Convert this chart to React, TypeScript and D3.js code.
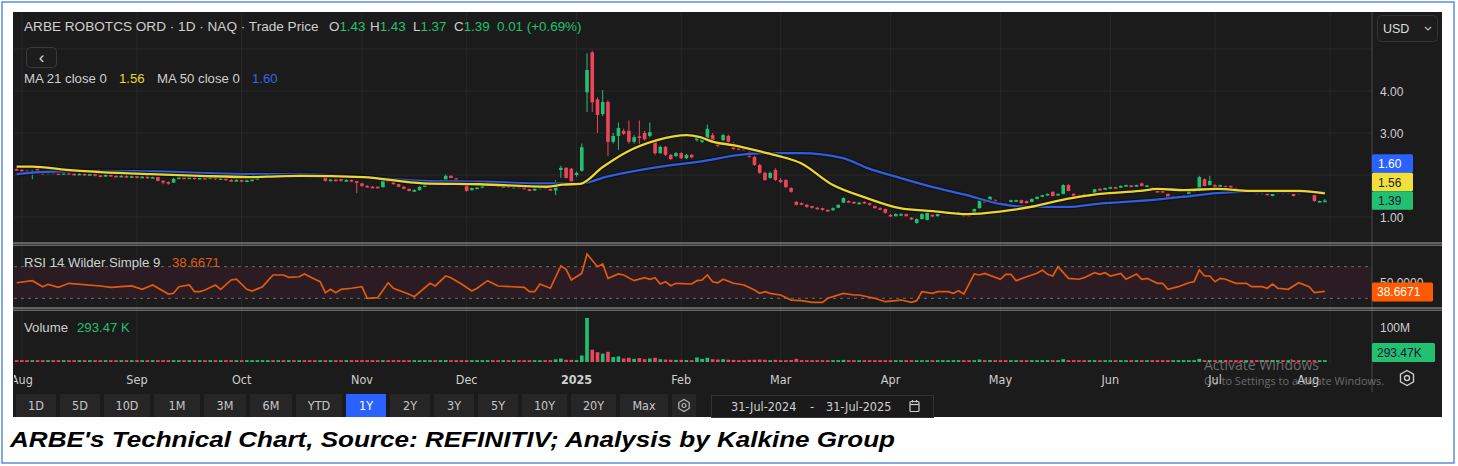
import React from 'react';
import * as d3 from 'd3';

type Bar = [number, number, number, number, number]; // open, high, low, close, volume (millions)

const jul24: Bar[] = [[2.14,2.16,2.10,2.12,3.1]];
const aug24: Bar[] = [
  [2.12,2.14,2.07,2.09,2.8],[2.10,2.12,2.04,2.06,3.0],[2.03,2.12,1.90,2.10,4.6],[2.16,2.18,2.03,2.05,3.4],
  [2.05,2.07,2.01,2.03,2.5],[2.03,2.08,2.02,2.06,2.2],[2.06,2.08,2.03,2.04,1.9],[2.04,2.06,2.00,2.02,2.1],
  [2.02,2.07,2.01,2.05,2.4],[2.05,2.06,2.01,2.03,1.8],[2.03,2.05,1.99,2.01,2.0],[2.01,2.05,2.00,2.03,2.2],
  [2.03,2.04,1.98,2.00,1.7],[2.00,2.04,1.99,2.02,1.9],[2.02,2.03,1.97,1.99,2.3],[1.99,2.00,1.95,1.97,2.0],
  [1.97,2.02,1.96,2.00,2.6],[2.00,2.01,1.96,1.98,1.8],[1.98,1.99,1.94,1.96,2.1],[1.96,2.00,1.95,1.98,1.7],
  [1.98,1.99,1.93,1.95,2.2],[1.95,1.99,1.94,1.97,1.9]];
const sep24: Bar[] = [
  [1.97,1.98,1.92,1.94,2.0],[1.94,1.98,1.93,1.96,2.3],[1.96,1.97,1.91,1.93,1.8],[1.93,1.97,1.92,1.95,2.1],
  [1.95,1.96,1.85,1.86,4.2],[1.86,1.88,1.78,1.83,4.8],[1.83,1.85,1.77,1.80,3.9],[1.82,1.93,1.81,1.91,4.4],
  [1.91,1.96,1.90,1.94,2.9],[1.94,1.95,1.90,1.92,2.2],[1.92,1.96,1.91,1.94,2.0],[1.94,1.95,1.89,1.91,2.1],
  [1.91,1.95,1.90,1.93,1.8],[1.93,1.94,1.90,1.92,1.7],[1.92,1.96,1.91,1.94,2.0],[1.94,1.95,1.88,1.90,2.4],
  [1.90,1.94,1.89,1.92,1.9],[1.92,1.93,1.86,1.88,2.2],[1.88,1.90,1.84,1.86,2.3],[1.86,1.90,1.85,1.88,1.8]];
const oct24: Bar[] = [
  [1.88,1.89,1.83,1.85,2.1],[1.85,1.89,1.84,1.87,1.9],[1.87,1.91,1.86,1.89,2.0],[1.89,1.95,1.88,1.93,2.6],
  [1.93,1.99,1.92,1.97,3.0],[1.97,2.05,1.96,2.02,3.5],[2.02,2.04,1.98,2.00,2.4],[2.00,2.05,1.99,2.03,2.2],
  [2.03,2.04,1.99,2.01,1.9],[2.01,2.06,2.00,2.04,2.3],[2.04,2.05,2.00,2.02,1.8],[2.02,2.06,2.01,2.04,2.0],
  [2.04,2.05,2.00,2.02,1.7],[2.02,2.03,1.99,2.01,1.8],[2.01,2.02,1.97,1.99,2.0],[1.99,2.02,1.98,2.00,1.9],
  [2.00,2.01,1.84,1.86,5.2],[1.86,1.90,1.85,1.89,2.6],[1.89,1.91,1.85,1.87,2.1],[1.90,1.91,1.84,1.86,2.4],
  [1.86,1.90,1.85,1.88,1.9],[1.88,1.89,1.83,1.85,2.2],[1.85,1.86,1.57,1.82,4.6]];
const nov24: Bar[] = [
  [1.80,1.81,1.72,1.74,3.8],[1.74,1.76,1.70,1.72,2.6],[1.72,1.74,1.69,1.71,2.2],[1.72,1.73,1.68,1.70,2.0],
  [1.71,1.89,1.70,1.87,4.9],[1.87,1.89,1.83,1.84,2.8],[1.85,1.86,1.77,1.78,3.0],[1.78,1.79,1.71,1.72,2.9],
  [1.72,1.73,1.66,1.67,2.7],[1.67,1.68,1.61,1.62,3.1],[1.62,1.66,1.60,1.64,2.4],[1.64,1.73,1.63,1.72,3.3],
  [1.72,1.79,1.71,1.78,3.6],[1.78,1.82,1.77,1.80,2.5],[1.80,1.82,1.77,1.79,2.2],[1.80,1.89,1.79,1.88,4.0],
  [1.88,2.01,1.87,1.98,5.5],[1.98,2.00,1.92,1.93,3.6],[1.92,1.93,1.85,1.86,3.0],[1.86,1.87,1.79,1.80,2.8]];
const dec24: Bar[] = [
  [1.79,1.80,1.60,1.62,4.4],[1.64,1.70,1.63,1.69,2.9],[1.69,1.72,1.67,1.70,2.1],[1.70,1.75,1.69,1.74,2.4],
  [1.74,1.85,1.73,1.83,3.8],[1.82,1.83,1.75,1.76,2.7],[1.76,1.78,1.71,1.72,2.2],[1.72,1.75,1.71,1.73,1.8],
  [1.73,1.74,1.69,1.70,1.9],[1.70,1.73,1.69,1.72,1.7],[1.72,1.74,1.70,1.71,1.6],[1.72,1.73,1.65,1.66,2.5],
  [1.66,1.67,1.61,1.62,2.8],[1.63,1.70,1.62,1.69,2.6],[1.69,1.72,1.68,1.70,2.0],[1.71,1.72,1.66,1.67,2.2],
  [1.67,1.68,1.62,1.63,2.6],[1.63,1.88,1.52,1.83,7.5],[2.12,2.22,1.93,2.17,9.8],[2.17,2.19,1.92,1.93,6.2],
  [2.15,2.17,1.81,1.83,5.9]];
const jan25: Bar[] = [
  [2.00,2.08,1.96,2.05,5.1],[2.10,2.75,2.08,2.66,18.5],[3.97,4.90,3.50,4.50,126],[4.92,4.96,3.50,3.73,35],
  [3.80,3.85,3.00,3.43,28],[3.45,4.02,3.40,3.74,24],[3.74,3.78,2.45,2.79,29],[2.79,3.00,2.75,2.93,14],
  [2.93,3.25,2.60,3.12,16],[3.05,3.10,2.95,2.98,10],[3.05,3.30,2.75,2.79,12],[2.79,2.95,2.75,2.90,9],
  [2.92,3.30,2.70,2.88,11],[3.00,3.05,2.82,2.85,8],[2.93,3.25,2.90,3.02,10],[2.83,2.86,2.48,2.52,12],
  [2.52,2.70,2.50,2.67,8],[2.67,2.69,2.45,2.48,7],[2.48,2.50,2.36,2.38,6.5],[2.45,2.55,2.43,2.52,6]];
const feb25: Bar[] = [
  [2.52,2.54,2.38,2.40,6],[2.40,2.50,2.38,2.48,5.5],[2.48,2.50,2.40,2.42,5],[2.83,2.96,2.80,2.93,13],
  [2.79,2.92,2.76,2.88,9],[2.88,3.20,2.86,3.10,12],[2.95,3.00,2.80,2.83,8],[2.76,2.80,2.66,2.69,7],
  [2.83,2.98,2.80,2.95,8],[2.93,2.96,2.76,2.79,6.5],[2.74,2.78,2.60,2.62,6],[2.64,2.68,2.60,2.62,5],
  [2.63,2.66,2.58,2.60,4.5],[2.55,2.58,2.41,2.43,6],[2.43,2.46,2.22,2.24,6.5],[2.24,2.27,2.03,2.05,7],
  [2.05,2.08,1.86,1.88,6.5],[1.93,2.08,1.91,2.05,5],[2.12,2.16,1.86,1.88,6]];
const mar25: Bar[] = [
  [1.88,1.92,1.81,1.83,4.5],[1.88,1.90,1.69,1.71,5],[1.69,1.71,1.58,1.60,5.5],[1.36,1.38,1.27,1.29,9],
  [1.33,1.35,1.28,1.30,4.5],[1.29,1.31,1.22,1.24,4],[1.26,1.27,1.20,1.22,3.5],[1.22,1.24,1.18,1.20,3],
  [1.21,1.22,1.15,1.17,3.5],[1.17,1.18,1.12,1.14,3.8],[1.16,1.23,1.15,1.21,3.2],[1.22,1.30,1.21,1.29,4],
  [1.34,1.47,1.33,1.45,6],[1.38,1.40,1.34,1.36,3.5],[1.36,1.37,1.31,1.33,3],[1.31,1.36,1.30,1.34,2.8],
  [1.36,1.37,1.31,1.33,2.5],[1.33,1.34,1.27,1.29,2.8],[1.26,1.27,1.20,1.21,3.2],[1.21,1.23,1.17,1.19,2.9],
  [1.19,1.20,1.08,1.10,3.6]];
const apr25: Bar[] = [
  [1.05,1.07,1.00,1.02,3.8],[1.02,1.09,1.01,1.07,3],[1.05,1.09,1.03,1.07,2.6],[1.07,1.08,1.01,1.02,2.8],
  [0.98,1.00,0.93,0.95,3.5],[0.86,0.97,0.84,0.95,5],[0.95,1.09,0.94,1.07,4.5],[0.93,1.12,0.92,1.10,5],
  [1.05,1.06,1.00,1.02,3],[1.02,1.08,1.01,1.07,2.6],[1.10,1.15,1.09,1.14,3],[1.10,1.13,1.09,1.12,2.4],
  [1.10,1.13,1.09,1.12,2.2],[1.09,1.13,1.08,1.12,2.3],[1.07,1.08,1.01,1.02,2.8],[1.07,1.08,1.01,1.02,2.6],
  [1.07,1.20,1.06,1.19,4],[1.21,1.42,1.20,1.40,7],[1.38,1.40,1.34,1.36,4],[1.40,1.50,1.39,1.48,5.5],
  [1.40,1.42,1.36,1.38,4]];
const may25: Bar[] = [
  [1.33,1.35,1.28,1.29,3.5],[1.33,1.34,1.29,1.31,3],[1.36,1.41,1.35,1.40,3.5],[1.38,1.41,1.37,1.40,2.6],
  [1.40,1.41,1.32,1.33,3],[1.38,1.39,1.32,1.33,2.8],[1.36,1.44,1.35,1.43,3.5],[1.43,1.49,1.42,1.48,3.8],
  [1.48,1.53,1.47,1.52,3.6],[1.52,1.56,1.51,1.55,3.4],[1.60,1.61,1.49,1.50,4],[1.52,1.56,1.51,1.55,2.8],
  [1.55,1.78,1.54,1.76,8],[1.76,1.78,1.61,1.62,5],[1.55,1.57,1.47,1.48,4],[1.52,1.54,1.48,1.50,2.8],
  [1.55,1.56,1.49,1.50,3],[1.48,1.54,1.47,1.53,2.9],[1.57,1.67,1.56,1.66,4.2],[1.67,1.69,1.63,1.64,3],
  [1.66,1.70,1.65,1.69,2.8]];
const jun25: Bar[] = [
  [1.69,1.72,1.68,1.71,2.6],[1.71,1.72,1.68,1.69,2.4],[1.70,1.75,1.69,1.74,3],[1.74,1.77,1.73,1.76,2.8],
  [1.75,1.76,1.72,1.73,2.2],[1.73,1.77,1.72,1.76,2.5],[1.80,1.82,1.73,1.74,3.5],[1.74,1.76,1.73,1.75,2],
  [1.71,1.72,1.65,1.66,2.6],[1.62,1.63,1.59,1.60,2.8],[1.62,1.63,1.58,1.59,2.4],[1.55,1.56,1.43,1.45,4],
  [1.47,1.51,1.46,1.50,3],[1.48,1.51,1.47,1.50,2.4],[1.48,1.52,1.47,1.51,2.2],[1.55,1.61,1.54,1.60,3],
  [1.60,1.65,1.59,1.64,3.2],[1.62,1.98,1.61,1.95,9],[1.90,1.92,1.73,1.74,5],[1.76,1.98,1.75,1.86,4.5]];
const jul25: Bar[] = [
  [1.76,1.78,1.68,1.69,3.5],[1.71,1.77,1.70,1.76,2.8],[1.74,1.75,1.71,1.72,2.2],[1.74,1.75,1.68,1.69,2.4],
  [1.69,1.70,1.63,1.64,2.6],[1.62,1.63,1.60,1.61,2],[1.60,1.63,1.59,1.62,1.9],[1.62,1.63,1.59,1.60,1.8],
  [1.62,1.63,1.54,1.55,2.5],[1.55,1.60,1.54,1.59,2.1],[1.60,1.61,1.51,1.52,2.6],[1.50,1.56,1.49,1.55,2.2],
  [1.57,1.60,1.56,1.59,1.8],[1.62,1.63,1.54,1.55,2.3],[1.55,1.60,1.54,1.59,1.9],[1.57,1.58,1.49,1.50,2.4],
  [1.60,1.61,1.54,1.55,2],[1.60,1.65,1.59,1.64,2.2],[1.64,1.65,1.56,1.57,2],[1.52,1.53,1.36,1.38,3.8],
  [1.37,1.39,1.36,1.38,1.2],[1.38,1.43,1.37,1.39,0.29347]];

// moving averages: [trading-day index, value]
const ma21: [number, number][] = [[0,2.20],[3,2.20],[9.6,2.12],[16,2.07],[25.5,2.02],[35,1.98],[44.6,1.95],[47.8,1.96],[54.2,1.98],[66.2,1.95],[77.7,1.80],[88.5,1.78],[101.4,1.72],[104.4,1.77],[107.7,1.79],[112,2.19],[116.6,2.55],[122.4,2.83],[128.1,2.95],[130.6,2.90],[133.1,2.79],[136.9,2.71],[143.4,2.52],[147.2,2.40],[149.7,2.29],[156,1.76],[162.5,1.45],[168.8,1.21],[175.1,1.14],[181.6,1.07],[187.9,1.13],[194.2,1.25],[200.7,1.43],[207,1.55],[214.7,1.62],[218,1.67],[223,1.64],[229.4,1.67],[235.7,1.62],[245.2,1.62],[250,1.56]];
const ma50: [number, number][] = [[0,2.02],[6.4,2.08],[16,2.10],[28.7,2.08],[35,2.05],[44.6,2.02],[54.2,2.02],[66.2,1.95],[77.7,1.86],[88.5,1.84],[101.4,1.80],[107.7,1.80],[112.8,1.96],[125.4,2.24],[130.6,2.32],[138.2,2.48],[143.4,2.52],[149.7,2.52],[157.9,2.40],[162.5,2.17],[168.8,1.93],[175.1,1.71],[181.6,1.52],[187.9,1.31],[194.2,1.24],[200.7,1.24],[207,1.32],[216.6,1.40],[223,1.48],[229.4,1.57],[235.7,1.60],[250,1.60]];
const rsi: [number, number][] = [[0,49.7],[3,52.3],[5,44.7],[6,47.7],[8,43.9],[10,49],[16,45.6],[18,43.9],[22,45.6],[24,41.4],[26,46.8],[29,35.4],[30,36.3],[31,44.7],[33,46.8],[34,38.4],[35,38.4],[36,40.5],[38,46.8],[39,41.4],[41,53.2],[42,54.1],[44,41.4],[45,39.2],[47,44.7],[49,59.5],[51,59.5],[52,56.6],[54,57.3],[55,60.8],[57,54.1],[58,51],[59,37.1],[60,41.4],[61,37.1],[62,41.4],[64,42.7],[66,44.7],[67,30],[69,30.8],[71,49.7],[72,42.7],[75,35.1],[76,32],[79,49],[80,45.6],[82,58.2],[83,56.1],[85,48.1],[87,39.2],[88,42.7],[90,52.3],[92,45.6],[97,43.9],[98,38.4],[99,38.4],[100,48.1],[102,42.7],[104,70.9],[105,66.7],[106,53.2],[108,61.6],[109,86.1],[111,70],[112,73.4],[113,55.3],[115,60.8],[116,59.5],[118,52.3],[120,56.1],[121,54.1],[122,56.1],[123,48.1],[124,51],[125,46],[126,49],[129,48.1],[130,52.3],[131,53.2],[132,59.5],[133,51],[134,49.7],[135,54.1],[137,49],[139,46.8],[141,40.5],[142,36.3],[143,38.4],[144,36.3],[146,34.2],[148,27.8],[150,27],[152,24.9],[154,24.9],[155,30],[158,36.3],[160,34.2],[161,34.2],[163,31.3],[164,30],[166,25.7],[169,27.8],[171,24.9],[172,27],[173,38.4],[175,36.3],[176,38.4],[178,38.4],[179,36.3],[180,39.6],[181,35.4],[183,60.8],[184,59.5],[185,61.6],[188,54.1],[189,60.4],[190,60.4],[191,52.3],[193,57.3],[195,61.6],[196,65.8],[197,60.4],[198,58.2],[199,70],[201,55.3],[203,54.1],[204,56.1],[206,62.4],[207,60.4],[208,62.4],[209,58.2],[211,61.6],[212,54.1],[214,60.8],[215,54.1],[216,55.3],[218,49],[219,49],[220,41.4],[222,44.7],[224,49.7],[225,51],[226,65.8],[227,58.2],[228,58.2],[229,51],[230,55.3],[231,54.1],[233,49],[235,49],[236,44.7],[238,44.7],[239,42.7],[240,48.1],[241,42.7],[243,41.4],[245,49.7],[247,44.7],[248,37.1],[250,38.6671]];

const monthLabels = ['Aug','Sep','Oct','Nov','Dec','2025','Feb','Mar','Apr','May','Jun','Jul','Aug'];
const monthIdx = [1,23,43,66,86,107,127,146,167,188,209,229,251];
const priceGrid = [1,2,3,4,5];
const priceLabels = [4,3,1];
const rangeButtons = ['1D','5D','10D','1M','3M','6M','YTD','1Y','2Y','3Y','5Y','10Y','20Y','Max'];
const buttonWidths = [40,40,46,46,42,42,46,40,40,40,40,45,45,48];
const lastMA21 = 1.56, lastMA50 = 1.60, lastClose = 1.39, lastRSI = 38.6671, lastVolLabel = '293.47K';

const bars: Bar[] = [...jul24,...aug24,...sep24,...oct24,...nov24,...dec24,...jan25,...feb25,...mar25,...apr25,...may25,...jun25,...jul25];

const GREEN = '#22c172', RED = '#f0445c', BG = '#1b1b1b', GRID = '#282828', TXT = '#cfcfcf';
const FONT = "'Liberation Sans', Arial, sans-serif";
const NARROW = "'Liberation Sans Narrow','DejaVu Sans Condensed','Roboto',sans-serif";

export default function App() {
  const left = 14, axisX = 1372, right = 1442;
  const x = d3.scaleLinear().domain([0, 250]).range([16.6, 1324.9]);
  const yP = d3.scaleLinear().domain([0, 5]).range([259, 49]);
  const yR = d3.scaleLinear().domain([30, 70]).range([298.3, 266.7]);
  const yV = d3.scaleLinear().domain([0, 100]).range([362, 327]);
  const lineP = d3.line<[number, number]>().x(d => x(d[0])).y(d => yP(d[1])).curve(d3.curveMonotoneX);
  const lineR = d3.line<[number, number]>().x(d => x(d[0])).y(d => yR(d[1]));

  // badge stacking
  const bh = 18.5;
  const gY = yP(lastClose);
  const yY = Math.min(yP(lastMA21), gY - bh);
  const bY = Math.min(yP(lastMA50), yY - bh);
  const badges = [
    { y: bY, fill: '#2962ff', color: '#fff', t: lastMA50.toFixed(2) },
    { y: yY, fill: '#f2e03a', color: '#222', t: lastMA21.toFixed(2) },
    { y: gY, fill: GREEN, color: '#113', t: lastClose.toFixed(2) },
  ];
  const rY = yR(lastRSI);
  const vY = Math.min(yV(bars[250][4]), 362 - 9.5);

  let bx = 16;
  const btns = rangeButtons.map((t, i) => { const b = { t, x: bx, w: buttonWidths[i] }; bx += buttonWidths[i] + 4; return b; });

  return (
    <div style={{ position: 'absolute', left: 0, top: 0 }}>
      <svg width={1458} height={466} style={{ display: 'block', background: '#fff' }}>
        <defs>
          <clipPath id="cp"><rect x={left} y={13} width={axisX - left} height={229} /></clipPath>
          <clipPath id="cx"><rect x={left} y={360} width={axisX - left} height={40} /></clipPath>
        </defs>
        <rect x={2} y={2} width={1452} height={461} fill="#fff" stroke="#5b8fd8" strokeWidth={1.5} />
        <rect x={13} y={12} width={right - 13} height={405} fill={BG} />

        {/* vertical grid */}
        {monthIdx.map((m, i) => (
          <line key={'vg' + i} x1={x(m)} x2={x(m)} y1={13} y2={363} stroke={GRID} strokeWidth={1} />
        ))}
        {priceGrid.map(p => (
          <line key={'hg' + p} x1={left} x2={axisX} y1={yP(p)} y2={yP(p)} stroke={GRID} strokeWidth={1} />
        ))}

        {/* price panel */}
        <g clipPath="url(#cp)">
          {bars.map((b, i) => {
            const [o, h, l, c] = b; const up = c >= o; const col = up ? GREEN : RED;
            const top = yP(Math.max(o, c)); const hh = Math.max(1.6, yP(Math.min(o, c)) - top);
            return (
              <g key={'c' + i}>
                <line x1={x(i)} x2={x(i)} y1={yP(h)} y2={yP(l)} stroke={col} strokeWidth={1} />
                <rect x={x(i) - 1.8} y={top} width={3.6} height={hh} fill={col} />
              </g>
            );
          })}
          <path d={lineP(ma50) || ''} fill="none" stroke="#0d0d0d" strokeWidth={4.5} opacity={0.7} />
          <path d={lineP(ma50) || ''} fill="none" stroke="#2f5fe0" strokeWidth={2.3} />
          <path d={lineP(ma21) || ''} fill="none" stroke="#0d0d0d" strokeWidth={4.5} opacity={0.7} />
          <path d={lineP(ma21) || ''} fill="none" stroke="#ecd62c" strokeWidth={2.3} />
        </g>

        {/* RSI panel */}
        <rect x={left} y={yR(70)} width={axisX - left} height={yR(30) - yR(70)} fill="#2b1c23" />
        {[70, 30].map(v => (
          <line key={'rl' + v} x1={left} x2={axisX} y1={yR(v)} y2={yR(v)} stroke="#6d6d6d" strokeWidth={1} strokeDasharray="3,4" />
        ))}
        <path d={lineR(rsi) || ''} fill="none" stroke="#e35a0e" strokeWidth={1.7} />

        {/* Volume */}
        {bars.map((b, i) => {
          const up = b[3] >= b[0]; const top = yV(b[4]);
          const hh = Math.max(1.8, 362 - top);
          return <rect key={'v' + i} x={x(i) - 1.8} y={362 - hh} width={3.6} height={hh} fill={up ? GREEN : RED} />;
        })}

        {/* separators */}
        <line x1={axisX} x2={axisX} y1={12} y2={392} stroke="#4a4a4a" strokeWidth={1} />
        {[243, 308].map(y => (
          <g key={'sep' + y}>
            <line x1={13} x2={right} y1={y} y2={y} stroke="#a8a8a8" strokeWidth={1.2} />
            <line x1={13} x2={right} y1={y + 2.2} y2={y + 2.2} stroke="#8a8a8a" strokeWidth={1} />
          </g>
        ))}

        {/* header texts */}
        <text x={24} y={31} fontFamily={FONT} fontSize={13.6} fill={TXT}>
          ARBE ROBOTCS ORD · 1D · NAQ · Trade Price
        </text>
        <text y={31} fontFamily={FONT} fontSize={13.4}>
          <tspan x={329} fill={TXT}>O</tspan><tspan fill={GREEN}>1.43</tspan>
          <tspan x={370} fill={TXT}>H</tspan><tspan fill={GREEN}>1.43</tspan>
          <tspan x={413} fill={TXT}>L</tspan><tspan fill={GREEN}>1.37</tspan>
          <tspan x={454} fill={TXT}>C</tspan><tspan fill={GREEN}>1.39</tspan>
          <tspan x={497} fill={GREEN}>0.01 (+0.69%)</tspan>
        </text>
        <rect x={26.5} y={47.5} width={30} height={20} rx={4} fill="#1d1d1d" stroke="#3b3b3b" />
        <text x={41.5} y={63} textAnchor="middle" fontFamily={FONT} fontSize={17} fill="#ddd">‹</text>
        <text y={83} fontFamily={FONT} fontSize={13.2}>
          <tspan x={24} fill={TXT}>MA 21 close 0</tspan>
          <tspan x={119} fill="#ecd62c">1.56</tspan>
          <tspan x={157} fill={TXT}>MA 50 close 0</tspan>
          <tspan x={252} fill="#3565e8">1.60</tspan>
        </text>
        <text y={267} fontFamily={FONT} fontSize={13.2}>
          <tspan x={24} fill={TXT}>RSI 14 Wilder Simple 9</tspan>
          <tspan x={172} fill="#e35a0e">38.6671</tspan>
        </text>
        <text y={332} fontFamily={FONT} fontSize={13.2}>
          <tspan x={24} fill={TXT}>Volume</tspan>
          <tspan x={77} fill={GREEN}>293.47 K</tspan>
        </text>

        {/* right axis */}
        <rect x={1377.5} y={15.5} width={60} height={26} rx={4} fill="#1d1d1d" stroke="#333" />
        <text x={1383} y={33} fontFamily={FONT} fontSize={12.5} fill="#ddd">USD</text>
        <path d="M1425,27 l3,3 l3,-3" fill="none" stroke="#bbb" strokeWidth={1.2} />
        {priceLabels.map(p => (
          <text key={'pl' + p} x={1380} y={yP(p) + 4.5} fontFamily={FONT} fontSize={12} fill={TXT}>{p.toFixed(2)}</text>
        ))}
        {badges.map((b, i) => (
          <g key={'b' + i}>
            <rect x={1372} y={b.y - bh / 2} width={41} height={bh} rx={1.5} fill={b.fill} />
            <text x={1378} y={b.y + 4.5} fontFamily={FONT} fontSize={12} fill={b.color}>{b.t}</text>
          </g>
        ))}
        <text x={1380} y={yR(50) + 4} fontFamily={FONT} fontSize={12} fill={TXT}>50.0000</text>
        <rect x={1372} y={rY - 9} width={61} height={19} rx={1.5} fill="#ff5a00" />
        <text x={1377} y={rY + 5} fontFamily={FONT} fontSize={12} fill="#fff">{lastRSI.toFixed(4)}</text>
        <text x={1380} y={yV(100) + 4.5} fontFamily={FONT} fontSize={12} fill={TXT}>100M</text>
        <rect x={1372} y={vY - 9.5} width={63} height={19} rx={1.5} fill={GREEN} />
        <text x={1377} y={vY + 4.5} fontFamily={FONT} fontSize={12} fill="#113">{lastVolLabel}</text>

        {/* x axis */}
        <g clipPath="url(#cx)">
          {monthLabels.map((m, i) => (
            <text key={'ml' + i} x={x(monthIdx[i]) - (i === 12 ? 22 : 0)} y={384} textAnchor="middle" fontFamily={NARROW} fontSize={12.5}
              fontWeight={m === '2025' ? 'bold' : 'normal'} fill={TXT}>{m}</text>
          ))}
        </g>
        <g transform="translate(1407,378)">
          <path d="M0,-7.5 L6.5,-3.75 L6.5,3.75 L0,7.5 L-6.5,3.75 L-6.5,-3.75 Z" fill="none" stroke="#ccc" strokeWidth={1.4} />
          <circle r={2.5} fill="none" stroke="#ccc" strokeWidth={1.4} />
        </g>

        {/* buttons */}
        {btns.map(b => (
          <g key={'btn' + b.t}>
            <rect x={b.x} y={394} width={b.w} height={23} fill={b.t === '1Y' ? '#2962ff' : '#262626'} />
            <text x={b.x + b.w / 2} y={410} textAnchor="middle" fontFamily={NARROW} fontSize={12.5} fill={b.t === '1Y' ? '#fff' : '#c6c6c6'}>{b.t}</text>
          </g>
        ))}
        <rect x={bx} y={394} width={24} height={23} fill="#262626" />
        <g transform={`translate(${bx + 12},405.5)`}>
          <path d="M0,-6 L5.2,-3 L5.2,3 L0,6 L-5.2,3 L-5.2,-3 Z" fill="none" stroke="#bbb" strokeWidth={1.2} />
          <circle r={2} fill="none" stroke="#bbb" strokeWidth={1.2} />
        </g>
        <rect x={711.5} y={395.5} width={222} height={22} fill="#1a1a1a" stroke="#333" />
        <text x={731} y={411} fontFamily={NARROW} fontSize={12.5} fill="#d0d0d0">31-Jul-2024</text>
        <text x={812} y={411} textAnchor="middle" fontFamily={NARROW} fontSize={12.5} fill="#d0d0d0">-</text>
        <text x={826} y={411} fontFamily={NARROW} fontSize={12.5} fill="#d0d0d0">31-Jul-2025</text>
        <g transform="translate(910,400)" fill="none" stroke="#ccc" strokeWidth={1.2}>
          <rect x={0} y={1.5} width={9} height={10} rx={1} />
          <line x1={0} x2={9} y1={4.5} y2={4.5} />
          <line x1={2.5} x2={2.5} y1={0} y2={2.5} />
          <line x1={6.5} x2={6.5} y1={0} y2={2.5} />
        </g>

        {/* OS watermark */}
        <text x={1204} y={370} fontFamily={"'Open Sans', sans-serif"} fontSize={14} fill="#a0a0a0" opacity={0.6}>Activate Windows</text>
        <text x={1204} y={385} fontFamily={"'Open Sans', sans-serif"} fontSize={11} fill="#a0a0a0" opacity={0.6}>Go to Settings to activate Windows.</text>

        {/* caption */}
        <text x={10} y={447} fontFamily={FONT} fontSize={22} fontWeight="bold" fontStyle="italic" fill="#000"
          textLength={885} lengthAdjust="spacingAndGlyphs">ARBE's Technical Chart, Source: REFINITIV; Analysis by Kalkine Group</text>
      </svg>
    </div>
  );
}
